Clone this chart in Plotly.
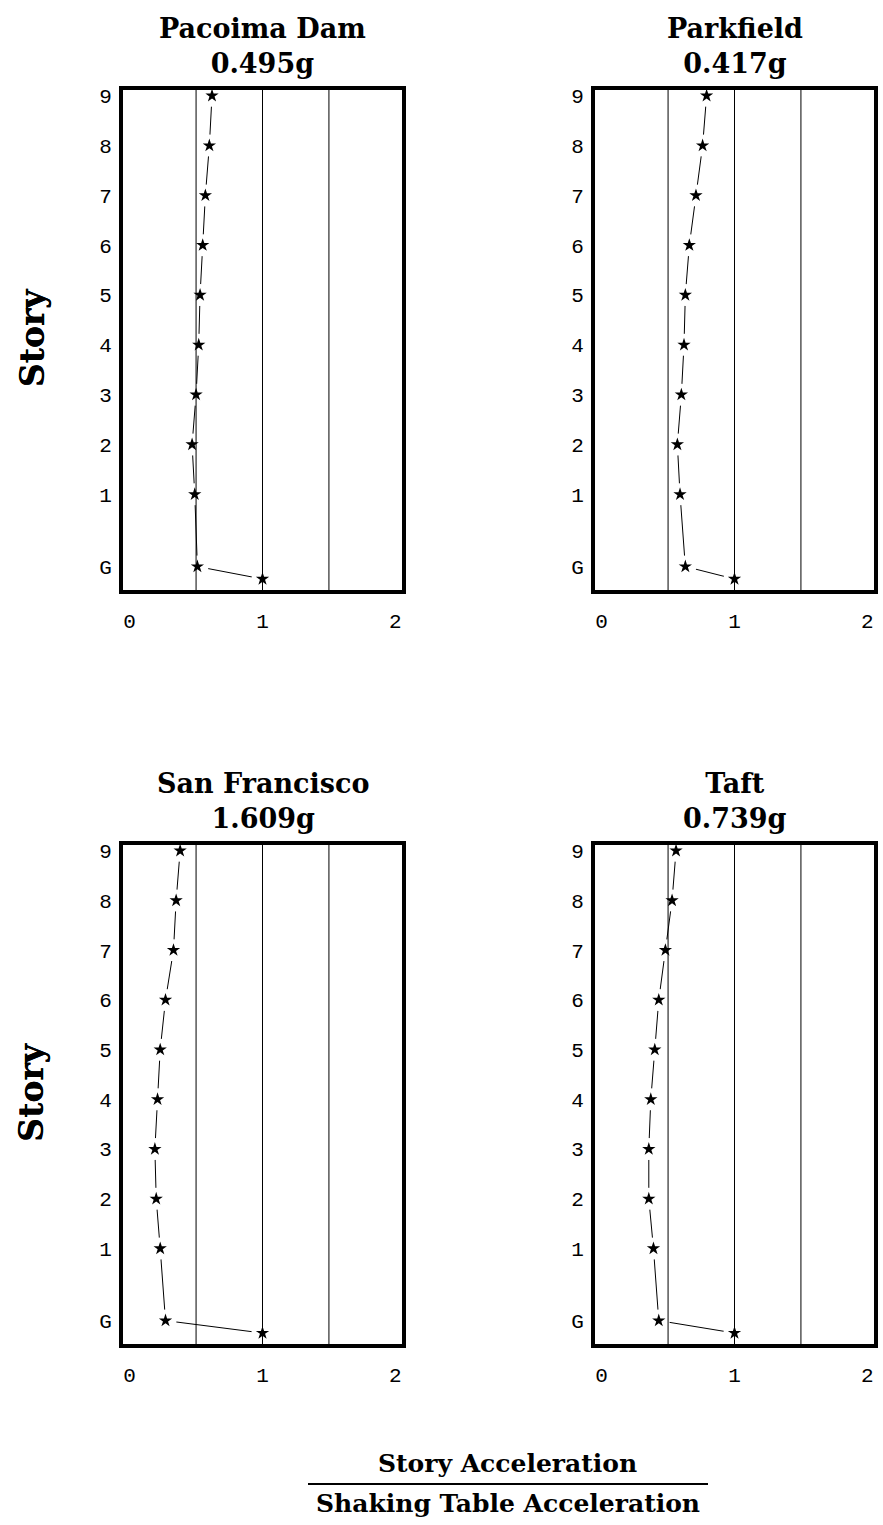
import plotly.graph_objects as go

# ---- data ----
story_height = [-0.7, -0.45, 1, 2, 3, 4, 5, 6, 7, 8, 9]   # shaking table, G, 1..9
tick_levels = [-0.45, 1, 2, 3, 4, 5, 6, 7, 8, 9]
tick_labels = ["G", "1", "2", "3", "4", "5", "6", "7", "8", "9"]
x_ticks = [0, 1, 2]
ref_lines = [0.5, 1.0, 1.5]

pacoima = [1.0, 0.51, 0.49, 0.47, 0.50, 0.52, 0.53, 0.55, 0.57, 0.60, 0.62]
parkfield = [1.0, 0.63, 0.59, 0.57, 0.60, 0.62, 0.63, 0.66, 0.71, 0.76, 0.79]
sanfran = [1.0, 0.27, 0.23, 0.20, 0.19, 0.21, 0.23, 0.27, 0.33, 0.35, 0.38]
taft = [1.0, 0.43, 0.39, 0.355, 0.355, 0.37, 0.40, 0.43, 0.48, 0.53, 0.56]

titles = ["Pacoima Dam<br>0.495g", "Parkfield<br>0.417g",
          "San Francisco<br>1.609g", "Taft<br>0.739g"]
series = [pacoima, parkfield, sanfran, taft]

W, H = 883, 1525
xdoms = [[123 / W, 402 / W], [595 / W, 874 / W]]
ydoms = [[1 - 588 / H, 1 - 86 / H], [1 - 1344 / H, 1 - 843 / H]]

fig = go.Figure()
serif = "DejaVu Serif"
mono = "Liberation Mono"

for i, (vals, title) in enumerate(zip(series, titles)):
    row, col = divmod(i, 2)
    n = i + 1
    xa = "x" if n == 1 else f"x{n}"
    ya = "y" if n == 1 else f"y{n}"
    fig.add_trace(go.Scatter(x=vals, y=story_height, mode="lines",
                             line=dict(color="black", width=1),
                             xaxis=xa, yaxis=ya, showlegend=False, hoverinfo="skip"))
    fig.add_trace(go.Scatter(x=vals, y=story_height, mode="markers",
                             marker=dict(symbol="circle", size=22, color="white",
                                         opacity=1, line=dict(width=0)),
                             xaxis=xa, yaxis=ya, showlegend=False, hoverinfo="skip"))
    fig.add_trace(go.Scatter(x=vals, y=story_height, mode="markers",
                             marker=dict(symbol="star", size=10, color="black",
                                         line=dict(width=0)),
                             xaxis=xa, yaxis=ya, showlegend=False))
    axis_common = dict(showline=True, mirror=True, linewidth=4, linecolor="black",
                       showgrid=False, zeroline=False, ticks="",
                       tickfont=dict(family=mono, size=21, color="black"))
    fig.layout[f"xaxis{n if n > 1 else ''}"] = dict(
        domain=xdoms[col], anchor=ya, range=[-0.05, 2.05],
        tickvals=x_ticks, ticktext=[str(v) for v in x_ticks],
        ticklabelstandoff=8, **axis_common)
    fig.layout[f"yaxis{n if n > 1 else ''}"] = dict(
        domain=ydoms[row], anchor=xa, range=[-0.93, 9.12],
        tickvals=tick_levels, ticktext=tick_labels,
        ticklabelstandoff=3, **axis_common)
    for v in ref_lines:
        fig.add_shape(type="line", xref=xa, yref=f"{ya} domain", x0=v, x1=v, y0=0, y1=1,
                      line=dict(color="black", width=1), layer="above")
    fig.add_annotation(text=f"<b>{title}</b>", xref="paper", yref="paper",
                       x=(xdoms[col][0] + xdoms[col][1]) / 2,
                       y=ydoms[row][1] + 9 / H, xanchor="center", yanchor="bottom",
                       showarrow=False, font=dict(family=serif, size=27, color="black"))
    fig.add_annotation(text="<b>Story</b>", xref="paper", yref="paper",
                       x=32 / W, y=(ydoms[row][0] + ydoms[row][1]) / 2 + 2 / H,
                       xanchor="center", yanchor="middle", textangle=-90,
                       showarrow=False, font=dict(family=serif, size=33, color="black"))

# fraction label
fig.add_annotation(text="<b>Story Acceleration</b>", xref="paper", yref="paper",
                   x=508 / W, y=1 - 1480 / H, xanchor="center", yanchor="bottom",
                   showarrow=False, font=dict(family=serif, size=25, color="black"))
fig.add_annotation(text="<b>Shaking Table Acceleration</b>", xref="paper", yref="paper",
                   x=508 / W, y=1 - 1487 / H, xanchor="center", yanchor="top",
                   showarrow=False, font=dict(family=serif, size=25, color="black"))
fig.add_shape(type="line", xref="paper", yref="paper", x0=308 / W, x1=708 / W,
              y0=1 - 1484 / H, y1=1 - 1484 / H, line=dict(color="black", width=2))

fig.update_layout(width=W, height=H, margin=dict(l=0, r=0, t=0, b=0),
                  paper_bgcolor="white", plot_bgcolor="white")
fig.write_html("out.html")
